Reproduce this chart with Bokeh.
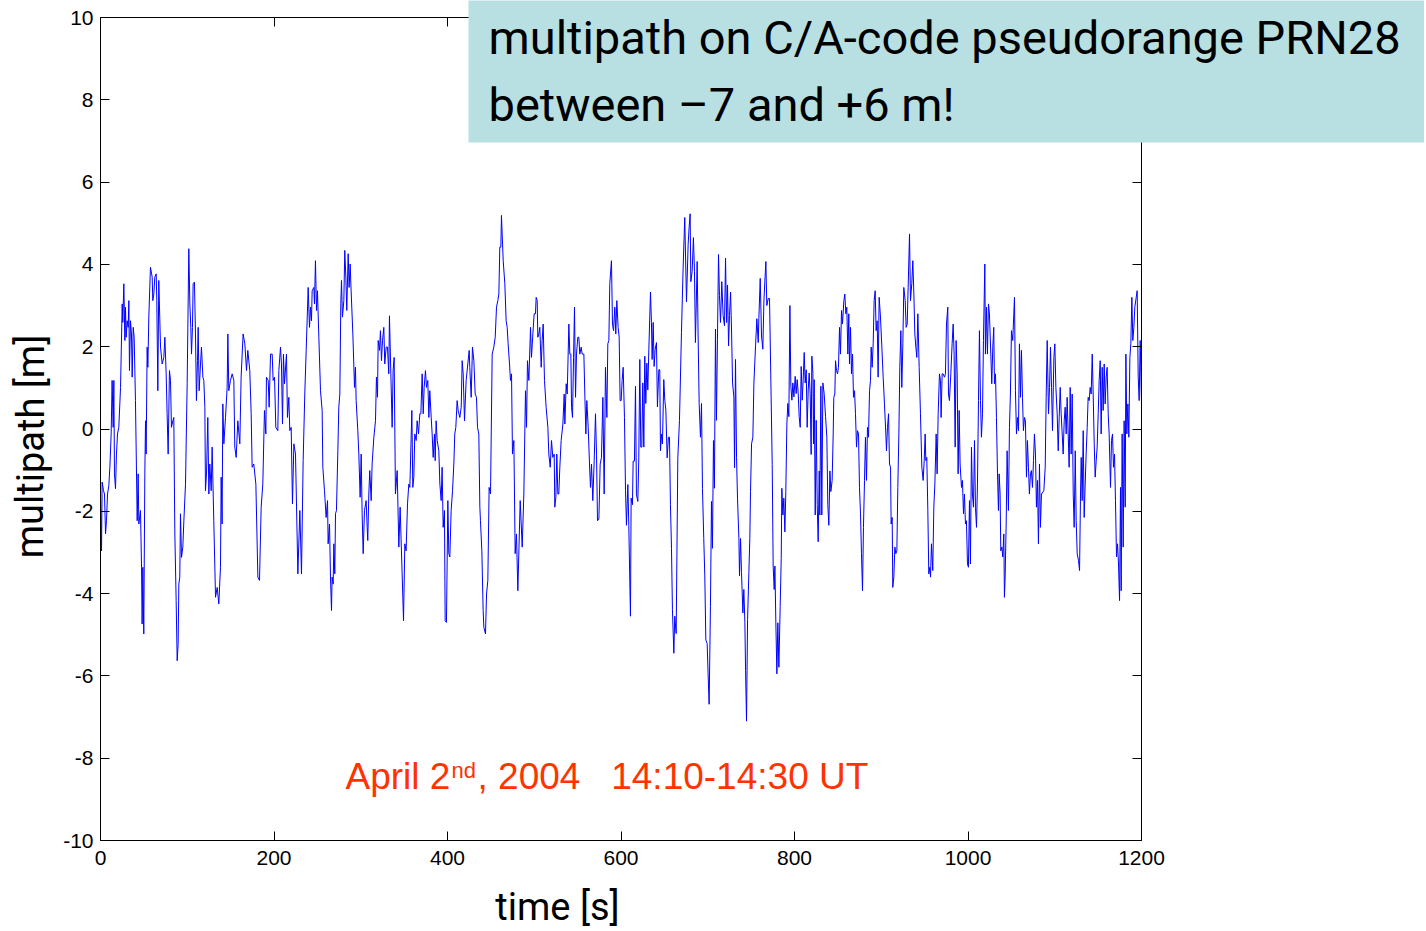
from bokeh.plotting import figure
from bokeh.models import Range1d, LinearAxis, FixedTicker, Label, BoxAnnotation
from bokeh.embed import file_html
from bokeh.resources import INLINE

# ---- data: (time [s], multipath [m]), in segments ----
seg_000_121 = [(0, -1.5), (1.2, -2.96), (1.9, -1.29), (3.5, -1.50), (4.6, -1.58), (5.8, -2.55), (6.9, -2.23),
    (8.1, -1.58), (9.6, -1.38), (10.8, -0.93), (12.3, -0.12), (13.4, 1.18), (14.6, 0.04), (15.4, 1.18),
    (16.1, -1.09), (17.3, -1.45), (18.4, -0.61), (19.6, -0.12), (21.1, 0.04), (23.1, 1.01), (25.0, 3.04),
    (25.7, 2.59), (26.9, 3.53), (28.1, 2.15), (28.8, 2.96), (29.6, 2.23), (30.7, 2.63), (31.9, 2.47),
    (32.7, 3.12), (33.4, 1.42), (34.6, 2.63), (35.7, 2.31), (36.5, 1.26), (37.7, 2.47), (38.8, 2.23),
    (40.3, 0.69), (42.3, -2.23), (43.4, -1.09), (44.2, -2.31), (46.1, -1.98), (47.3, -3.36), (48.0, -4.74),
    (48.8, -3.36), (49.9, -4.98), (51.1, -1.09), (51.9, 0.20), (52.6, -0.61), (53.8, 1.99), (54.6, 1.50),
    (55.7, 2.72), (57.6, 3.93), (59.6, 3.69), (60.3, 3.12), (61.5, 3.28), (62.6, 3.69), (64.2, 3.77),
    (64.9, 3.12), (66.1, 0.93), (67.2, 3.61), (69.2, 1.99), (71.1, 1.58), (73.0, 1.74), (74.2, 2.23),
    (75.7, 1.34), (76.8, 0.37), (78.0, -0.61), (79.5, 1.42), (80.7, 1.18), (81.8, 0.04), (83.4, 0.20),
    (84.5, 0.28), (85.7, -2.55), (87.2, -4.17), (88.4, -5.63), (89.5, -5.22), (90.3, -3.77), (91.4, -3.60),
    (92.2, -2.06), (93.4, -3.12), (94.9, -2.87), (96.1, -2.23), (98.0, -1.34), (99.9, 1.10), (101.8, 4.38),
    (103.0, 3.04), (104.1, 2.47), (104.9, 1.82), (106.0, 2.47), (106.8, 3.53), (108.3, 3.57), (109.5, 2.31),
    (110.6, 0.69), (111.8, 1.66), (112.6, 2.47), (113.7, 0.93), (115.3, 1.58), (116.4, 1.99), (118.0, 1.26),
    (119.1, 1.18), (120.3, 0.53), (121.0, -1.50)]

seg_121_238 = [(122.2, -1.09), (123.7, 0.28), (124.9, -1.58), (126.0, -0.85), (127.6, -1.50), (128.7, -0.44),
    (130.6, -2.23), (132.6, -4.09), (134.5, -3.85), (136.4, -4.25), (138.3, -3.36), (139.1, -1.17),
    (140.2, -2.31), (141.0, 0.61), (142.2, -0.36), (144.1, 0.28), (146.0, 1.01), (146.8, 2.31), (147.9, 0.93),
    (149.8, 1.18), (151.8, 1.34), (153.7, 1.18), (154.8, -0.44), (156.4, -0.69), (158.3, 0.20), (160.6, -0.36),
    (162.1, 1.26), (164.4, 2.31), (166.4, 2.07), (168.3, 1.42), (169.8, 1.91), (172.1, 1.42), (173.7, 0.37),
    (174.8, -0.93), (176.7, -0.85), (179.1, -1.34), (181.4, -3.60), (183.3, -3.68), (185.2, -1.90),
    (187.1, -1.34), (189.0, 0.45), (190.6, -0.12), (191.3, 1.26), (193.3, 1.18), (194.4, 0.53), (196.0, 1.82),
    (197.9, 1.82), (199.0, 1.18), (200.6, 1.26), (202.1, 0.04), (204.4, -0.04), (205.6, 1.42), (207.5, 1.99),
    (208.6, 1.58), (209.8, 0.12), (210.9, 1.82), (212.1, 1.10), (214.4, 1.82), (215.5, 0.28), (217.1, 0.77),
    (218.2, -0.04), (219.8, 0.04), (221.3, -1.82), (222.9, -0.36), (224.8, -0.61), (227.5, -3.52),
    (229.8, -1.98), (231.7, -3.52), (233.6, -0.77), (235.5, 0.85), (237.1, 1.91)]

seg_238_357 = [(239.4, 3.44), (240.9, 2.47), (242.1, 2.96), (243.2, 2.63), (244.0, 3.36), (245.9, 3.44),
    (246.7, 3.04), (247.8, 4.09), (249.0, 2.88), (250.1, 3.36), (251.7, 2.23), (253.6, 0.93), (255.5, 0.45),
    (256.3, -0.93), (258.2, -1.50), (260.1, -2.15), (261.7, -1.74), (262.4, -2.79), (264.0, -2.31),
    (265.1, -3.60), (266.3, -4.41), (267.0, -3.60), (268.2, -3.77), (269.0, -2.79), (270.1, -3.52),
    (270.9, -2.06), (272.0, -1.98), (273.6, -0.53), (274.7, 0.53), (275.9, 0.85), (277.0, 3.04), (277.8, 3.61),
    (278.9, 2.72), (280.5, 3.12), (281.6, 4.34), (282.8, 3.69), (283.9, 2.88), (285.5, 4.26), (286.6, 3.44),
    (287.8, 4.01), (288.9, 3.36), (290.9, 2.31), (292.8, 1.01), (293.9, 1.50), (294.7, 0.69), (296.6, -0.04),
    (297.8, -0.61), (299.3, -1.66), (300.5, -0.61), (301.6, -2.06), (302.8, -3.03), (304.3, -1.98),
    (306.2, -1.74), (307.4, -2.39), (308.1, -2.71), (309.3, -1.58), (310.4, -1.01), (312.0, -1.74),
    (313.1, -0.85), (315.1, -0.20), (317.0, 0.20), (318.1, 1.26), (319.3, 0.77), (320.1, 2.15), (321.6, 1.91),
    (322.7, 2.39), (323.9, 1.66), (325.1, 2.15), (326.6, 2.47), (327.7, 1.58), (329.3, 1.99), (330.8, 1.99),
    (332.3, 1.34), (333.1, 2.75), (334.7, 1.34), (336.2, 0.04), (337.3, 1.42), (338.5, 1.74), (340.0, -1.58),
    (342.0, -1.01), (343.9, -2.87), (345.4, -1.90), (347.7, -3.52), (349.3, -4.66), (350.8, -2.79),
    (352.3, -2.96), (353.9, -1.82), (355.4, -1.34), (356.6, -1.42)]

seg_357_482 = [(358.9, 0.45), (360.0, -1.42), (361.2, -1.17), (362.3, -0.12), (363.9, -0.28), (365.0, 0.20),
    (366.6, -0.12), (368.1, 0.37), (369.3, 0.37), (370.8, 1.34), (372.0, 0.37), (373.1, 1.01), (374.6, 1.42),
    (375.8, 1.01), (377.3, 1.18), (378.5, 0.28), (379.6, 0.93), (381.2, 0.28), (382.3, -0.12), (383.5, -0.69),
    (385.0, -0.12), (385.8, -0.77), (386.9, 0.20), (388.1, -0.28), (390.0, -0.53), (391.2, -1.34),
    (392.7, -1.74), (393.8, -0.93), (395.0, -2.39), (396.5, -1.98), (397.3, -4.66), (398.8, -4.70),
    (400.4, -1.74), (401.5, -3.03), (402.7, -3.11), (404.2, -1.98), (405.8, -1.50), (407.3, -0.85),
    (408.4, -0.12), (409.6, 0.04), (411.1, 0.69), (412.3, 0.45), (414.2, 0.28), (415.8, 0.53), (416.9, 1.66),
    (418.1, 1.34), (419.6, 0.20), (421.5, 1.18), (423.4, 1.58), (425.0, 1.91), (425.7, 1.50), (427.3, 0.77),
    (428.8, 1.99), (430.4, 1.66), (431.9, 0.85), (433.4, 0.77), (434.6, 0.04), (436.1, -0.12), (437.3, -1.90),
    (438.0, -2.23), (439.6, -2.96), (441.1, -4.41), (441.9, -4.82), (443.8, -4.98), (445.0, -4.01),
    (446.5, -3.68), (448.0, -1.42), (449.6, -1.58), (451.5, 1.82), (453.4, 1.99), (455.0, 2.23), (456.5, 2.96),
    (458.0, 3.12), (459.2, 3.28), (460.3, 4.42), (461.5, 4.42), (462.2, 5.19), (464.2, 4.09), (466.1, 3.53),
    (467.6, 2.63), (468.8, 2.47), (469.9, 2.07), (471.5, 1.58), (472.6, 1.18), (473.8, 1.34), (474.9, -0.61),
    (476.5, -0.28), (478.0, -3.03), (479.5, -2.55), (481.1, -3.93)]

seg_482_606 = [(483.8, -1.74), (486.1, -2.87), (488.0, -1.58), (489.9, 0.93), (491.1, 0.04), (492.2, 1.66),
    (493.8, 1.18), (495.7, 2.47), (496.8, 1.74), (498.4, 2.31), (499.9, 2.80), (501.4, 2.80), (502.2, 3.20),
    (503.4, 3.12), (504.1, 2.23), (505.3, 2.31), (506.4, 2.47), (508.0, 1.50), (509.1, 2.15), (510.3, 2.55),
    (511.8, 1.18), (513.7, 0.53), (515.7, 0.04), (516.8, -0.61), (518.4, -0.93), (519.9, -0.28), (521.4, -0.69),
    (523.0, -0.61), (523.7, -1.90), (524.9, -1.66), (526.0, -0.61), (527.2, -1.58), (528.3, -1.58),
    (529.5, -0.93), (531.0, -0.28), (533.0, 0.12), (534.5, 0.85), (535.3, 0.12), (536.8, 1.10), (538.0, 0.85),
    (539.9, 2.55), (541.0, 1.82), (542.2, 1.82), (543.0, 0.53), (544.1, 0.28), (545.3, 1.74), (546.4, 2.96),
    (547.6, 0.77), (548.7, 1.82), (550.2, 2.23), (551.4, 2.23), (552.5, 1.82), (554.1, 1.99), (555.2, 1.82),
    (557.2, 1.82), (558.3, 0.85), (559.5, -0.12), (560.6, 0.69), (562.2, 0.04), (563.7, -0.85), (564.8, -1.42),
    (566.0, -0.85), (567.5, -1.74), (569.1, -0.77), (570.6, 0.37), (571.8, -0.61), (572.9, -2.23),
    (574.5, -2.19), (576.0, -0.85), (577.5, -0.69), (579.1, 0.77), (580.6, -1.58), (582.1, 1.50), (583.7, 0.28),
    (584.8, 2.07), (586.0, 2.15), (587.1, 3.53), (588.7, 4.01), (589.0, 4.09), (590.2, 2.55), (591.4, 2.39),
    (592.9, 2.96), (594.0, 2.31), (595.2, 3.12), (596.7, 2.47), (597.9, 2.23), (599.0, 0.69), (600.2, 0.69),
    (601.3, 1.18), (602.5, 1.50), (604.0, 0.28), (605.2, -1.50)]

seg_606_720 = [(606.3, -2.34), (607.9, -1.35), (609.0, -2.34), (610.9, -4.55), (611.7, -1.68), (613.2, -1.84),
    (614.0, -0.78), (615.5, -0.78), (616.7, 1.04), (617.8, -1.60), (619.4, -1.76), (620.5, -0.70), (621.7, 1.69),
    (622.8, -0.44), (624.0, -0.44), (625.1, 1.12), (626.3, -0.44), (627.4, 1.77), (628.6, 0.62), (629.8, 1.60),
    (630.9, 0.95), (632.1, 1.94), (634.0, 3.33), (635.1, 2.59), (635.9, 1.69), (637.1, 2.59), (638.2, 1.52),
    (639.4, 1.94), (640.9, 2.10), (642.0, 0.54), (643.6, 1.44), (644.7, 1.44), (645.5, -0.53), (646.7, -0.12),
    (647.8, -0.36), (649.3, 1.20), (650.5, 0.70), (651.7, 0.46), (653.2, -0.70), (654.7, -0.20), (655.9, -0.20),
    (657.0, -1.84), (658.2, -2.90), (659.3, -4.39), (660.9, -5.45), (662.0, -4.55), (663.6, -4.97),
    (665.5, -0.70), (667.4, 0.21), (669.7, 2.35), (671.6, 3.91), (673.5, 5.14), (675.5, 3.09), (677.4, 4.49),
    (678.5, 4.89), (679.7, 5.23), (680.5, 3.58), (682.0, 3.83), (683.5, 4.65), (684.7, 3.83), (685.8, 2.10),
    (687.8, 4.07), (688.9, 2.26), (690.1, 0.62), (691.6, -0.20), (692.8, 0.62), (693.9, -1.44), (695.4, -2.66),
    (696.6, -3.57), (697.8, -5.13), (699.3, -5.21), (700.4, -5.95), (701.6, -6.69), (703.1, -4.31),
    (704.3, -1.76), (705.4, -2.90), (706.6, -0.28), (707.7, -1.44), (708.9, 2.43), (710.0, 0.21), (711.2, 2.18),
    (712.4, 4.24), (713.5, 3.25), (714.7, 2.59), (716.2, 3.58), (717.7, 2.76), (719.3, 2.51)]

seg_720_842 = [(720.5, 4.15), (721.7, 2.59), (722.8, 3.50), (724.0, 2.02), (725.1, 2.76), (726.3, 3.33),
    (727.4, 2.43), (728.6, 1.12), (730.1, 0.78), (730.9, -0.94), (732.0, 1.69), (733.2, -0.70), (734.3, -1.68),
    (735.9, -2.66), (736.6, -3.57), (737.8, -2.66), (738.9, -3.49), (740.5, -4.47), (741.6, -3.90),
    (742.8, -4.71), (743.6, -5.87), (744.7, -7.10), (745.9, -4.63), (747.4, -3.49), (748.5, -2.66),
    (749.3, -1.52), (750.5, -0.36), (752.0, -0.20), (753.2, 1.12), (755.1, 2.02), (756.6, 2.68), (758.2, 2.10),
    (758.9, 2.68), (760.5, 3.66), (762.0, 2.26), (763.5, 1.94), (764.7, 3.09), (765.8, 3.58), (767.0, 4.07),
    (768.1, 3.00), (769.7, 3.17), (771.2, 3.17), (772.8, 1.12), (774.3, -0.86), (775.4, -3.33), (776.6, -3.90),
    (777.4, -3.33), (778.5, -4.71), (779.7, -5.95), (780.8, -4.71), (782.0, -5.79), (783.5, -4.31),
    (784.7, -3.15), (785.4, -1.44), (786.6, -2.09), (787.7, -1.68), (788.9, -2.50), (790.0, -1.52),
    (791.2, 0.12), (792.3, 0.62), (793.5, 0.30), (794.7, 3.00), (795.8, 1.04), (797.0, 0.70), (798.1, 1.12),
    (799.3, 0.78), (800.8, 1.28), (801.9, 0.86), (803.1, 1.20), (804.3, 0.86), (805.4, 0.30), (806.6, 0.04),
    (807.7, 1.52), (808.9, 0.70), (810.0, 1.20), (811.2, 1.86), (812.3, 1.12), (813.5, 1.44), (814.6, 0.04),
    (815.8, 0.95), (816.9, 1.36), (818.1, 0.86), (819.2, -0.62), (820.0, 1.77), (821.2, 1.36), (821.9, -0.36),
    (822.7, 1.20), (823.9, -2.09), (825.0, 0.21), (826.2, -1.84), (827.3, -2.74), (828.5, -1.02),
    (829.2, -2.09), (830.4, 1.04), (831.5, -2.09), (832.7, 1.12), (834.2, 0.86), (835.8, 0.30), (837.3, -0.20),
    (838.4, -1.84), (839.6, -2.34), (840.8, -1.02), (841.9, -1.52)]

seg_842_962 = [(843.4, -1.25), (844.6, -0.12), (845.3, 0.77), (846.5, 0.85), (847.3, 1.66), (848.4, 1.42),
    (849.6, 1.34), (850.7, 1.50), (851.9, 2.47), (853.0, 1.82), (854.2, 2.88), (855.3, 2.55), (856.9, 3.12),
    (858.0, 3.28), (859.2, 2.80), (860.3, 2.96), (861.5, 1.82), (862.6, 2.80), (863.4, 1.58), (864.6, 2.47),
    (865.7, 1.34), (866.9, 1.82), (868.0, 0.77), (869.2, 0.93), (870.3, 0.37), (871.5, -0.44), (872.6, -0.04),
    (873.8, -0.12), (874.9, -1.42), (876.1, -2.06), (877.2, -3.03), (878.4, -3.93), (879.5, -2.39),
    (880.7, -1.25), (881.8, -0.20), (883.0, -1.25), (884.1, 0.04), (885.3, -0.20), (886.5, 0.93), (887.6, 1.18),
    (888.4, 1.99), (889.5, 1.50), (890.7, 2.07), (891.8, 3.12), (893.0, 3.36), (894.1, 2.39), (895.3, 2.63),
    (896.4, 1.26), (897.6, 3.20), (899.1, 2.72), (900.7, 1.99), (902.2, 1.26), (903.7, 0.61), (905.3, -0.12),
    (906.0, -0.53), (907.2, 0.04), (908.4, 0.37), (909.5, -0.85), (910.7, -0.93), (911.4, -2.31), (912.6, -2.15),
    (913.3, -3.85), (914.5, -3.60), (915.7, -2.87), (916.8, -3.03), (918.0, -2.96), (919.1, -1.42),
    (920.3, -0.12), (921.4, 1.50), (922.6, 2.39), (923.7, 1.01), (924.9, 2.07), (926.0, 3.44), (927.6, 3.12),
    (928.7, 2.47), (929.9, 2.55), (931.0, 3.44), (932.6, 4.74), (933.7, 3.12), (935.2, 3.53), (936.4, 4.09),
    (937.6, 3.28), (938.7, 2.31), (939.9, 1.99), (941.0, 1.74), (942.2, 2.80), (943.7, 1.50), (945.2, 0.37),
    (946.8, -0.93), (948.3, -1.25), (949.5, -0.77), (950.6, -0.12), (951.4, -0.77), (952.5, -0.69),
    (953.7, -1.98), (954.8, -3.52), (956.0, -3.36), (956.8, -3.60), (957.9, -2.79), (959.4, -3.44),
    (960.6, -1.90), (961.8, -1.34)]

seg_962_1085 = [(963.3, -0.12), (964.4, -1.09), (965.6, 0.37), (967.1, 1.34), (968.3, 1.18), (969.0, 0.28),
    (970.2, 1.34), (971.3, 1.34), (972.9, 1.26), (974.0, 1.34), (975.2, 2.55), (976.7, 2.96), (977.5, 0.85),
    (978.6, 0.69), (980.2, 1.34), (981.7, 2.07), (982.9, 2.55), (984.0, 1.82), (985.2, -0.44), (986.3, 2.15),
    (987.5, 1.34), (988.6, -1.09), (989.8, 0.45), (990.9, -0.85), (992.5, -1.42), (993.6, -1.25),
    (994.8, -2.06), (995.9, -1.58), (997.1, -2.31), (998.2, -2.23), (999.4, -3.28), (1000.5, -3.36),
    (1001.7, -1.74), (1002.8, -3.28), (1004.0, -0.44), (1005.1, -1.58), (1006.3, -1.90), (1007.5, -0.28),
    (1008.6, -1.90), (1009.8, -2.39), (1010.9, -1.34), (1012.1, 0.69), (1013.2, 2.39), (1014.4, 0.69),
    (1015.5, -0.20), (1016.7, 0.37), (1017.8, 2.15), (1019.4, 4.01), (1020.1, 1.82), (1021.3, 2.96),
    (1022.4, 1.82), (1023.6, 3.04), (1024.7, 2.80), (1026.3, 1.82), (1027.4, 1.10), (1028.6, 1.99),
    (1029.7, 2.47), (1030.5, 1.10), (1031.7, 1.34), (1032.8, 0.28), (1034.0, -1.09), (1035.1, -1.98),
    (1035.9, -1.09), (1037.0, -1.58), (1037.8, -2.96), (1039.0, -2.87), (1040.1, -3.11), (1041.3, -2.55),
    (1042.0, -4.09), (1042.8, -3.60), (1044.0, -2.31), (1045.1, -0.53), (1046.6, -1.98), (1047.8, 0.04),
    (1048.9, 0.85), (1050.1, 2.39), (1051.6, 2.15), (1052.8, 2.80), (1053.6, 3.20), (1054.7, 0.93),
    (1055.9, -0.12), (1057.0, 0.28), (1058.2, -0.04), (1059.3, 2.07), (1060.5, 0.77), (1061.6, 1.91),
    (1062.8, 0.77), (1063.9, -0.04), (1065.1, 0.28), (1066.2, 0.20), (1067.4, -1.17), (1068.5, -0.28),
    (1069.7, -0.93), (1070.8, -1.58), (1072.0, -1.09), (1073.1, -1.01), (1074.3, -1.42), (1075.5, -0.77),
    (1076.6, -0.12), (1077.8, -0.61), (1078.9, -1.90), (1080.1, -1.25), (1081.2, -2.79), (1082.4, -0.85),
    (1083.5, -2.39), (1084.7, -1.58)]

seg_1085_1200 = [(1087.4, -1.50), (1089.0, -0.93), (1090.1, 0.77), (1091.3, 2.15), (1092.8, 0.37),
    (1094.0, 1.01), (1095.1, 1.99), (1096.3, 1.01), (1097.4, -0.04), (1099.0, 1.74), (1100.1, 2.07),
    (1101.3, 1.01), (1102.8, 0.37), (1104.0, -0.53), (1105.1, 0.28), (1106.3, 1.01), (1107.4, 0.37),
    (1108.6, -0.12), (1109.7, -0.61), (1110.9, 0.20), (1112.0, 0.53), (1113.2, -0.12), (1114.3, 0.77),
    (1115.5, -0.12), (1116.6, -0.93), (1117.8, 1.01), (1118.9, -0.61), (1120.1, 0.85), (1121.3, -1.58),
    (1122.4, -2.39), (1123.6, -0.53), (1124.7, -2.23), (1125.9, -3.03), (1127.4, -3.20), (1128.6, -3.44),
    (1129.7, -1.58), (1130.5, -0.69), (1131.6, -1.74), (1132.8, -0.04), (1133.9, -2.15), (1135.1, -1.34),
    (1136.2, -0.61), (1137.4, 0.04), (1138.5, 0.77), (1139.7, 0.69), (1140.8, 1.01), (1142.0, 0.85),
    (1143.2, 1.82), (1144.3, 0.85), (1145.5, -0.36), (1146.6, -1.17), (1147.8, -0.77), (1148.9, -0.44),
    (1150.1, 0.37), (1151.2, 1.18), (1152.4, 1.66), (1153.5, -0.12), (1154.7, 1.50), (1155.8, 0.45),
    (1157.0, 1.58), (1158.1, 0.61), (1159.3, 1.26), (1160.4, 1.50), (1161.6, 0.37), (1162.7, -0.12),
    (1164.3, -1.42), (1165.4, -0.28), (1166.6, -0.12), (1167.7, -0.93), (1168.9, -0.61), (1170.0, -1.74),
    (1171.2, -3.11), (1172.4, -2.79), (1173.5, -3.28), (1174.7, -4.17), (1175.8, -1.42), (1176.6, -3.93),
    (1177.7, -0.12), (1178.9, -2.87), (1180.0, 0.20), (1181.2, -1.90), (1182.0, 1.82), (1183.1, -0.12),
    (1184.3, 0.61), (1185.4, -0.20), (1186.6, 1.74), (1187.7, 2.07), (1188.9, 3.20), (1190.0, 2.15),
    (1191.2, 2.47), (1192.3, 2.96), (1193.9, 3.20), (1195.0, 3.36), (1196.2, 1.26), (1197.3, 0.69),
    (1198.5, 2.15), (1199.6, 1.01), (1200.0, 0.69)]

x_ticks = [0, 200, 400, 600, 800, 1000, 1200]
y_ticks = [-10, -8, -6, -4, -2, 0, 2, 4, 6, 8, 10]
title_lines = ["multipath on C/A-code pseudorange PRN28", "between \u20137 and +6 m!"]
x_label = "time [s]"
y_label = "multipath [m]"
date_parts = ["April 2", "nd", ",\u00a02004\u00a0\u00a0\u00a014:10-14:30\u00a0UT"]

segments = [seg_000_121, seg_121_238, seg_238_357, seg_357_482, seg_482_606,
            seg_606_720, seg_720_842, seg_842_962, seg_962_1085, seg_1085_1200]
time_s = [pt[0] for seg in segments for pt in seg]
multipath_m = [pt[1] for seg in segments for pt in seg]

# ---- layout: the frame fills the whole canvas, axes are pinned at the data box ----
W, H = 1424, 928
PX_X = 1041 / 1200.0      # pixels per second
PX_Y = 823 / 20.0         # pixels per metre
X0, Y0 = 100, 17          # canvas pixel of (0 s, +10 m)

def cx(px):   # canvas x pixel -> data x
    return (px - X0) / PX_X

def cy(py):   # canvas y pixel (from top) -> data y
    return 10 - (py - Y0) / PX_Y

p = figure(width=W, height=H, output_backend="svg", toolbar_location=None,
           x_range=Range1d(cx(0), cx(W)), y_range=Range1d(cy(H), cy(0)),
           min_border=0, min_border_left=0, min_border_right=0, min_border_top=0, min_border_bottom=0,
           background_fill_color="white", border_fill_color="white")
p.grid.visible = False
p.outline_line_color = None

p.line(time_s, multipath_m, line_color="#0000ff", line_width=1)

p.add_layout(LinearAxis(), "right")
p.add_layout(LinearAxis(), "above")
p.below[0].fixed_location = -10
p.above[0].fixed_location = 10
p.left[0].fixed_location = 0
p.right[0].fixed_location = 1200
for ax in p.xaxis:
    ax.ticker = FixedTicker(ticks=x_ticks)
    ax.bounds = (0, 1200)
for ax in p.yaxis:
    ax.ticker = FixedTicker(ticks=y_ticks)
    ax.bounds = (-10, 10)
for ax in p.axis:
    ax.axis_line_color = "black"
    ax.major_tick_line_color = "black"
    ax.major_tick_in = 9
    ax.major_tick_out = 0
    ax.minor_tick_line_color = None
    ax.major_label_text_font = "Liberation Sans"
    ax.major_label_text_font_size = "21px"
    ax.major_label_text_color = "black"
# mirrored axes: ticks only
p.above[0].major_label_overrides = {t: "" for t in x_ticks}
p.right[0].major_label_overrides = {t: "" for t in y_ticks}
# plain hyphen minus like the reference
p.left[0].major_label_overrides = {t: str(t) for t in y_ticks}
p.below[0].major_label_standoff = 10
p.left[0].major_label_standoff = 7

def lab(px, py, text, font, size, color="black", **kw):
    p.add_layout(Label(x=cx(px), y=cy(py), text=text, text_font=font, text_font_size=size,
                       text_color=color, text_baseline="alphabetic", **kw))

# axis titles
lab(557, 906, x_label, "Roboto", "38px", text_align="center")
lab(30, 446, y_label, "Roboto", "38px", text_align="center", angle=1.5707963)

# callout box
p.add_layout(BoxAnnotation(left=cx(468), right=cx(W + 10), bottom=cy(142), top=cy(-10),
                           fill_color="#b8dfe2", fill_alpha=1.0, line_color=None))
lab(488, 37, title_lines[0], "Roboto", "47px")
lab(488, 104, title_lines[1], "Roboto", "47px")

# date annotation
red = "#ff3300"
lab(345, 776, date_parts[0], "Liberation Sans", "37px", red)
lab(345, 770, date_parts[1], "Liberation Sans", "22px", red, x_offset=106)
lab(345, 776, date_parts[2], "Liberation Sans", "37px", red, x_offset=132)

open("out.html", "w").write(file_html(p, INLINE))
